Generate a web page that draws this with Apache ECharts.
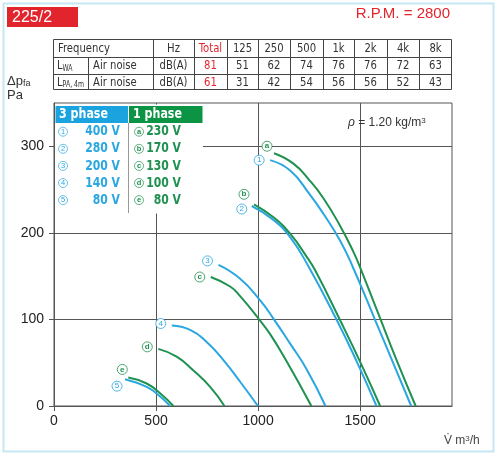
<!DOCTYPE html>
<html><head><meta charset="utf-8">
<script src="https://cdn.jsdelivr.net/npm/echarts@6/dist/echarts.min.js"></script>
<style>html,body{margin:0;padding:0;background:#fff}#c{width:500px;height:457px}</style>
</head><body><div id="c"></div>
<script>
// ---- data ----
const freqLabels = ['Total','125','250','500','1k','2k','4k','8k'];
const lwaValues = [81,51,62,74,76,76,72,63];
const lpaValues = [61,31,42,54,56,56,52,43];
const threePhaseMarks = ['1','2','3','4','5'];
const threePhaseVolts = ['400 V','280 V','200 V','140 V','80 V'];
const onePhaseMarks = ['a','b','c','d','e'];
const onePhaseVolts = ['230 V','170 V','130 V','100 V','80 V'];
const xTickValues = [0,500,1000,1500];
const yTickValues = [0,100,200,300];

const curve1 = [[1059,284],[1157,272],[1251,245],[1320,222],[1402,191],[1465,160],[1574,99],[1663,49],[1750,0]];
const curve2 = [[969,231],[1075,215],[1157,195],[1245,162],[1386,99],[1484,51],[1580,0]];
const curve3 = [[806,163],[912,147],[1010,122],[1075,101],[1157,72],[1239,42],[1330,0]];
const curve4 = [[577,93],[667,88],[748,74],[830,53],[912,28],[999,0]];
const curve5 = [[348,31],[454,22],[520,11],[569,0]];
const curveA = [[1078,292],[1173,280],[1251,261],[1320,240],[1402,208],[1467,178],[1505,157],[1590,106],[1680,52],[1772,0]];
const curveB = [[980,233],[1075,218],[1157,199],[1239,172],[1279,157],[1402,99],[1500,51],[1598,0]];
const curveC = [[768,149],[863,138],[912,127],[1005,100],[1059,83],[1141,51],[1261,0]];
const curveD = [[511,66],[601,57],[683,41],[765,22],[835,0]];
const curveE = [[364,33],[454,26],[528,13],[585,0]];

// ---- styling ----
const BLUE = '#2aa7e0', GREEN = '#1f9150', RED = '#e2252c';
const HDR_BLUE = '#1aa3de', HDR_GREEN = '#0b9444';
const NARROW = '"Liberation Sans Narrow","DejaVu Sans Condensed",sans-serif';
const SANS = '"Liberation Sans",Arial,sans-serif';

const seriesDefs = [
  {name:threePhaseVolts[0], data:curve1, color:BLUE, mark:threePhaseMarks[0], off:[-11,0]},
  {name:threePhaseVolts[1], data:curve2, color:BLUE, mark:threePhaseMarks[1], off:[-10,3]},
  {name:threePhaseVolts[2], data:curve3, color:BLUE, mark:threePhaseMarks[2], off:[-11,-4]},
  {name:threePhaseVolts[3], data:curve4, color:BLUE, mark:threePhaseMarks[3], off:[-11,-2]},
  {name:threePhaseVolts[4], data:curve5, color:BLUE, mark:threePhaseMarks[4], off:[-8,7]},
  {name:onePhaseVolts[0], data:curveA, color:GREEN, mark:onePhaseMarks[0], off:[-7,-7]},
  {name:onePhaseVolts[1], data:curveB, color:GREEN, mark:onePhaseMarks[1], off:[-10,-10]},
  {name:onePhaseVolts[2], data:curveC, color:GREEN, mark:onePhaseMarks[2], off:[-11,0]},
  {name:onePhaseVolts[3], data:curveD, color:GREEN, mark:onePhaseMarks[3], off:[-11,-2]},
  {name:onePhaseVolts[4], data:curveE, color:GREEN, mark:onePhaseMarks[4], off:[-6,-8]}
];

const series = seriesDefs.map(d => ({
  type:'line', name:d.name, data:d.data, smooth:0.5, showSymbol:false, silent:true,
  lineStyle:{color:d.color, width:2}, itemStyle:{color:d.color}, z:3,
  markPoint:{
    symbol:'circle', symbolSize:10, symbolOffset:d.off, silent:true,
    itemStyle:{color:'#fff', borderColor:d.color, borderWidth:0.8},
    label:{show:true, position:'inside', formatter:d.mark, color:d.color, fontSize:8,
      fontWeight: d.color===GREEN ? 'bold' : 'normal', fontFamily:SANS},
    data:[{coord:d.data[0]}]
  }
}));

// ---- graphics: frame, title, table, legend ----
const G = [];
G.push({type:'rect', shape:{x:3.5,y:3.5,width:490,height:448}, style:{fill:null, stroke:'#c6e6f3', lineWidth:2}, z:1});
G.push({type:'rect', shape:{x:7,y:7,width:71,height:20}, style:{fill:RED}, z:10});
G.push({type:'text', x:12, y:17.5, style:{text:'225/2', fill:'#fff', font:'16px '+SANS, verticalAlign:'middle'}, z:11});
G.push({type:'text', x:450, y:14, style:{text:'R.P.M. = 2800', fill:RED, font:'15px '+SANS, align:'right', verticalAlign:'middle'}, z:11});

// table
const colX = [53,88,153,194,227,258,290,323,354,387,419,452];
const LC = '#444';
G.push({type:'rect', shape:{x:53.5,y:39.5,width:398,height:50}, style:{fill:null, stroke:LC, lineWidth:1}, z:10});
[57,74].forEach(y => G.push({type:'line', shape:{x1:53,y1:y+0.5,x2:452,y2:y+0.5}, style:{stroke:LC, lineWidth:1}, z:10}));
colX.slice(2,-1).forEach(x => G.push({type:'line', shape:{x1:x+0.5,y1:39,x2:x+0.5,y2:90}, style:{stroke:LC, lineWidth:1}, z:10}));
G.push({type:'line', shape:{x1:88.5,y1:57,x2:88.5,y2:90}, style:{stroke:LC, lineWidth:1}, z:10});
function tcell(txt, x, y, align, color, rich){
  G.push({type:'text', x:x, y:y, scaleX:0.86, z:11,
    style:{text:txt, fill:color||'#333', font:'13px '+NARROW, align:align||'center', verticalAlign:'middle', rich:rich}});
}
const rowC = [48.5, 66, 82.5];
const subRich = {s:{fontSize:8, fontFamily:NARROW, fill:'#333', verticalAlign:'bottom', padding:[5,0,0,0]}};
tcell('Frequency', 58, rowC[0], 'left');
tcell('Hz', 173.5, rowC[0]);
tcell('L{s|WA}', 57, rowC[1], 'left', '#333', subRich);
tcell('L{s|PA, 4m}', 57, rowC[2], 'left', '#333', subRich);
tcell('Air noise', 93, rowC[1], 'left');
tcell('Air noise', 93, rowC[2], 'left');
tcell('dB(A)', 173.5, rowC[1]);
tcell('dB(A)', 173.5, rowC[2]);
freqLabels.forEach((f,i) => {
  const cx = (colX[i+3] + colX[i+4]) / 2;
  const col = i === 0 ? RED : '#333';
  tcell(f, cx, rowC[0], 'center', col);
  tcell(String(lwaValues[i]), cx, rowC[1], 'center', col);
  tcell(String(lpaValues[i]), cx, rowC[2], 'center', col);
});

// axis names & density
G.push({type:'text', x:7, y:81, z:11, style:{text:'Δp{s|fa}', fill:'#333', font:'13px '+SANS, verticalAlign:'middle',
  rich:{s:{fontSize:9, fontFamily:SANS, fill:'#333', verticalAlign:'bottom', padding:[5,0,0,0]}}}});
G.push({type:'text', x:7, y:95, z:11, style:{text:'Pa', fill:'#333', font:'13px '+SANS, verticalAlign:'middle'}});
G.push({type:'text', x:444, y:441, z:11, style:{text:'V\u0307 m{u|3}/h', fill:'#444', font:'12px '+SANS, verticalAlign:'middle',
  rich:{u:{fontSize:8, fontFamily:SANS, fill:'#444', verticalAlign:'top', padding:[0,0,5,0]}}}});
G.push({type:'text', x:348, y:123, z:11, style:{text:'{i|ρ} = 1.20 kg/m{u|3}', fill:'#333', font:'12px '+SANS, verticalAlign:'middle',
  rich:{i:{fontStyle:'italic', fontSize:12, fontFamily:SANS, fill:'#333'}, u:{fontSize:8, fontFamily:SANS, fill:'#333', verticalAlign:'top', padding:[0,0,5,0]}}}});

// legend box
G.push({type:'rect', shape:{x:55,y:104.5,width:148,height:109}, style:{fill:'#fff'}, z:20});
G.push({type:'rect', shape:{x:55.5,y:106,width:72.5,height:17}, style:{fill:HDR_BLUE}, z:21});
G.push({type:'rect', shape:{x:129,y:106,width:73.5,height:17}, style:{fill:HDR_GREEN}, z:21});
G.push({type:'text', x:59, y:114.5, scaleX:0.88, z:22, style:{text:'3 phase', fill:'#fff', font:'bold 14px '+NARROW, verticalAlign:'middle'}});
G.push({type:'text', x:133, y:114.5, scaleX:0.88, z:22, style:{text:'1 phase', fill:'#fff', font:'bold 14px '+NARROW, verticalAlign:'middle'}});
G.push({type:'line', shape:{x1:128.5,y1:123,x2:128.5,y2:213}, style:{stroke:'#999', lineWidth:1}, z:21});
for (let i = 0; i < 5; i++) {
  const y = 131.7 + i * 17.1;
  G.push({type:'circle', shape:{cx:63,cy:y,r:4.5}, style:{fill:'#fff', stroke:BLUE, lineWidth:0.7}, z:21});
  G.push({type:'text', x:63, y:y+0.3, z:22, style:{text:threePhaseMarks[i], fill:BLUE, font:'7.5px '+SANS, align:'center', verticalAlign:'middle'}});
  G.push({type:'text', x:120, y:y, scaleX:0.86, z:22, style:{text:threePhaseVolts[i], fill:BLUE, font:'bold 14px '+NARROW, align:'right', verticalAlign:'middle'}});
  G.push({type:'circle', shape:{cx:139,cy:y,r:4.5}, style:{fill:'#fff', stroke:GREEN, lineWidth:0.7}, z:21});
  G.push({type:'text', x:139, y:y+0.3, z:22, style:{text:onePhaseMarks[i], fill:GREEN, font:'bold 7.5px '+SANS, align:'center', verticalAlign:'middle'}});
  G.push({type:'text', x:181, y:y, scaleX:0.86, z:22, style:{text:onePhaseVolts[i], fill:GREEN, font:'bold 14px '+NARROW, align:'right', verticalAlign:'middle'}});
}

const AX = '#555';
const option = {
  animation:false,
  backgroundColor:'#fff',
  grid:{left:54, top:103, width:398, height:303, show:true, borderColor:AX, borderWidth:1},
  xAxis:{type:'value', min:0, max:1950, interval:250,
    axisLine:{show:true, lineStyle:{color:AX}},
    axisTick:{show:true, length:5, customValues:xTickValues, lineStyle:{color:AX}},
    axisLabel:{customValues:xTickValues, formatter:v => String(v), fontSize:14, color:'#222', margin:8, fontFamily:SANS},
    splitLine:{show:true, lineStyle:{color:AX, width:1}}},
  yAxis:{type:'value', min:0, max:350, interval:50,
    axisLine:{show:true, lineStyle:{color:AX}},
    axisTick:{show:true, length:5, customValues:yTickValues, lineStyle:{color:AX}},
    axisLabel:{customValues:yTickValues, formatter:v => String(v), fontSize:14, color:'#222', margin:10, fontFamily:SANS},
    splitLine:{show:true, lineStyle:{color:AX, width:1}}},
  graphic:{elements:G},
  series:series
};
const chart = echarts.init(document.getElementById('c'), null, {renderer:'canvas'});
chart.setOption(option);
</script></body></html>
